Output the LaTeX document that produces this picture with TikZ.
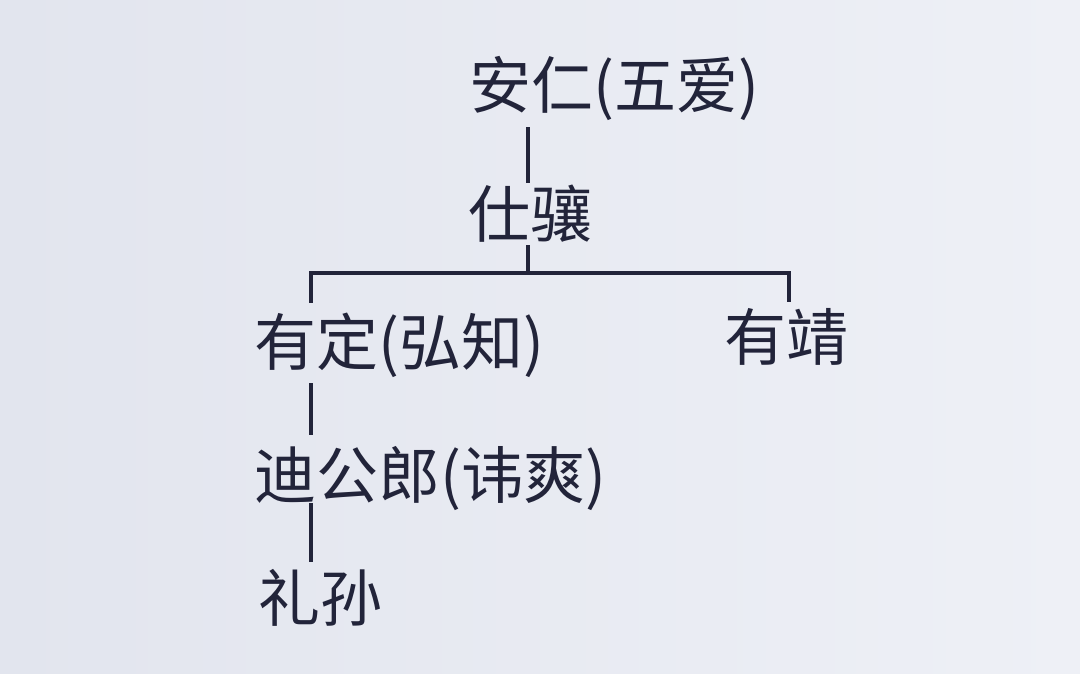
\documentclass[tikz,border=0pt]{standalone}
\usepackage{fontspec}
\newfontfamily\cjk{Noto Sans CJK SC}
\definecolor{bgL}{RGB}{226,229,238}
\definecolor{bgR}{RGB}{238,240,246}
\definecolor{ink}{RGB}{34,36,58}
\tikzset{
  person/.style={anchor=base west, inner sep=0pt, text height=46pt, text depth=6pt,
    font=\cjk\fontsize{62}{66}\selectfont, text=ink},
  link/.style={draw=ink, line width=3.4pt}
}
\begin{document}
\begin{tikzpicture}[x=1pt,y=-1pt]
\shade[left color=bgL, right color=bgR] (0,0) rectangle (1080,674);
\useasboundingbox (0,0) rectangle (1080,674);
\node[person] (n1) at (469,109) {安仁(五爱)};
\node[person] (n2) at (468,237) {仕骧};
\node[person] (n3) at (254,365) {有定(弘知)};
\node[person] (n4) at (724,360) {有靖};
\node[person] (n5) at (254,498) {迪公郎(讳爽)};
\node[person] (n6) at (258,621) {礼孙};
\coordinate (j1) at (528,0);
\coordinate (bus) at (528,273);
\coordinate (bl) at (311,273);
\coordinate (br) at (789,273);
\draw[link] ([yshift=-12pt]n1.south -| j1) -- ([yshift=8pt]n2.north -| j1);
\draw[link] ([yshift=-2pt]n2.south -| j1) -- (bus);
\draw[link] ([yshift=16pt]n3.north -| bl) -- (bl) -- (br) -- ([yshift=12pt]n4.north -| br);
\draw[link] ([yshift=-12pt]n3.south -| bl) -- ([yshift=17pt]n5.north -| bl);
\draw[link] ([yshift=1pt]n5.south -| bl) -- ([yshift=13pt]n6.north -| bl);
\end{tikzpicture}
\end{document}
